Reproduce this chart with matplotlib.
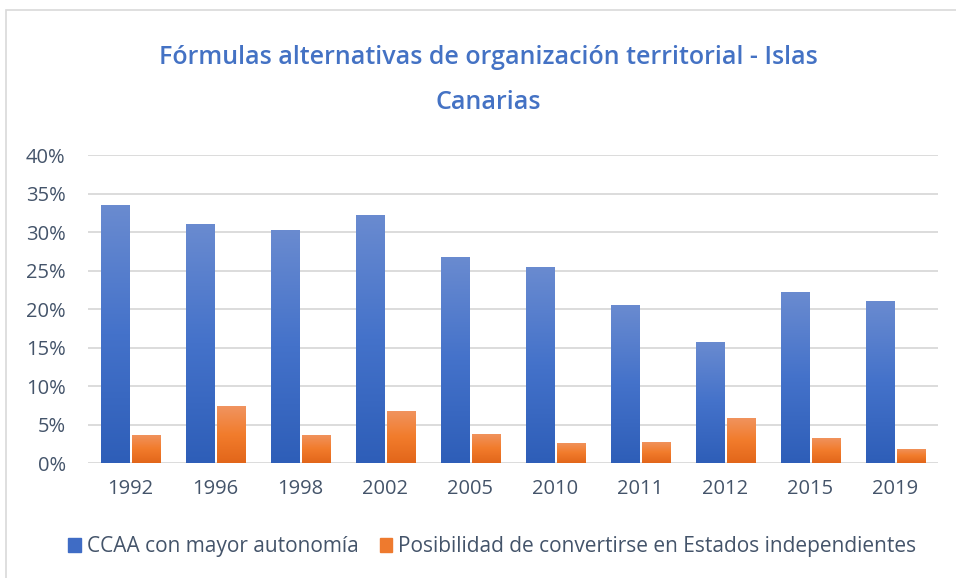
import matplotlib
matplotlib.use("Agg")
import matplotlib.pyplot as plt
import numpy as np
from matplotlib.colors import LinearSegmentedColormap
from matplotlib.patches import Rectangle

years = ["1992", "1996", "1998", "2002", "2005", "2010", "2011", "2012", "2015", "2019"]
ccaa = [33.5, 31.1, 30.3, 32.3, 26.8, 25.5, 20.6, 15.8, 22.2, 21.1]
independ = [3.7, 7.4, 3.7, 6.8, 3.8, 2.6, 2.8, 5.9, 3.3, 1.9]
series_names = ["CCAA con mayor autonomía", "Posibilidad de convertirse en Estados independientes"]
title_lines = ["Fórmulas alternativas de organización territorial - Islas", "Canarias"]
yticks = [0, 5, 10, 15, 20, 25, 30, 35, 40]

plt.rcParams['font.family'] = ['Open Sans', 'DejaVu Sans']

TXT = "#44546A"
fig = plt.figure(figsize=(9.56, 5.78), dpi=100)
ax = fig.add_axes([0.092, 0.1985, 0.889, 0.5325])

blue_cmap = LinearSegmentedColormap.from_list("b", ["#2E5EB8", "#4472CA", "#6A8BD0"])
orange_cmap = LinearSegmentedColormap.from_list("o", ["#E2661A", "#F27C2C", "#F09460"])

x = np.arange(len(years))
w = 0.33
gap = 0.03
grad = np.linspace(0, 1, 256).reshape(-1, 1)

def grad_bars(xs, vals, cmap, color):
    bars = ax.bar(xs, vals, width=w, color=color, zorder=3)
    for b in bars:
        x0, y0 = b.get_x(), b.get_y()
        bw, bh = b.get_width(), b.get_height()
        im = ax.imshow(grad, extent=[x0, x0 + bw, y0, y0 + bh], origin='lower',
                       aspect='auto', cmap=cmap, zorder=4)
        im.set_clip_path(b)
    return bars

grad_bars(x - w / 2 - gap / 2, ccaa, blue_cmap, "#4472C4")
grad_bars(x + w / 2 + gap / 2, independ, orange_cmap, "#ED7D31")

ax.set_xlim(-0.5, len(years) - 0.5)
ax.set_ylim(0, 40)
ax.set_yticks(yticks)
ax.set_yticklabels([f"{v}%" for v in yticks])
ax.set_xticks(x)
ax.set_xticklabels(years)
ax.tick_params(axis='both', length=0, labelsize=14.5, colors=TXT)
ax.tick_params(axis='x', pad=11)
ax.tick_params(axis='y', pad=16)
ax.grid(axis='y', color="#D9D9D9", linewidth=1.3, zorder=0)
ax.set_axisbelow(True)
for s in ax.spines.values():
    s.set_visible(False)

fig.text(0.511, 0.9, title_lines[0], ha='center', va='center', fontsize=18,
         fontweight='semibold', color="#4472C4")
fig.text(0.511, 0.822, title_lines[1], ha='center', va='center', fontsize=18,
         fontweight='semibold', color="#4472C4")

fig.legend([Rectangle((0, 0), 1, 1, color="#3F6CC5"), Rectangle((0, 0), 1, 1, color="#EE7A2E")],
           series_names, loc='center', bbox_to_anchor=(0.515, 0.054), ncol=2, frameon=False,
           fontsize=15, handlelength=0.6, handleheight=0.6, handletextpad=0.3,
           columnspacing=1.0, labelcolor=TXT)

fig.patches.append(Rectangle((6 / 956, -0.05), 1.1, 1 - 10 / 578 + 0.05, transform=fig.transFigure,
                             fill=False, edgecolor="#D9D9D9", linewidth=1.2))

fig.savefig("out.png", dpi=100)
